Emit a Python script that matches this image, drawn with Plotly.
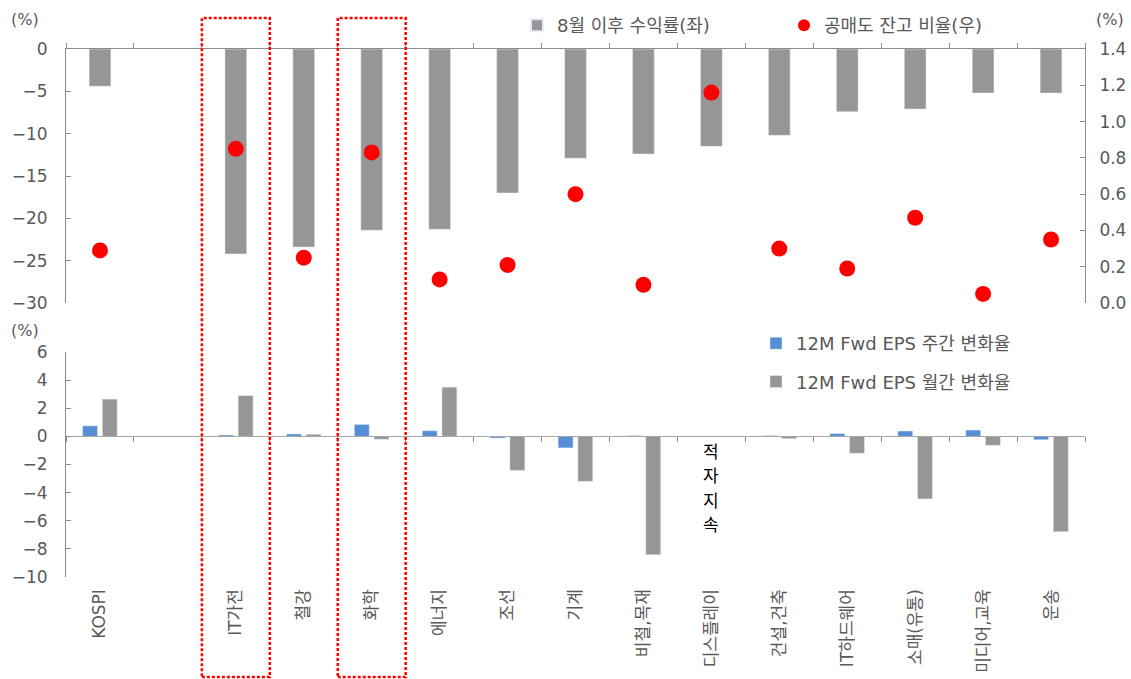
import plotly.graph_objects as go

# ---- data ----------------------------------------------------------------
categories = ["KOSPI", " ", "IT가전", "철강", "화학", "에너지", "조선", "기계",
              "비철,목재", "디스플레이", "건설,건축", "IT하드웨어", "소매(유통)",
              "미디어,교육", "운송"]

# return since August (%), left axis
return_since_aug = [-4.4, None, -24.2, -23.4, -21.4, -21.3, -17.0, -12.9,
                    -12.4, -11.5, -10.2, -7.4, -7.1, -5.2, -5.2]

# short-selling balance ratio (%), right axis
short_balance_ratio = [0.29, None, 0.85, 0.25, 0.83, 0.13, 0.21, 0.60,
                       0.10, 1.16, 0.30, 0.19, 0.47, 0.05, 0.35]

# 12M forward EPS change (%)
eps_weekly = [0.75, None, 0.10, 0.17, 0.85, 0.40, -0.12, -0.82,
              0.05, None, 0.05, 0.20, 0.38, 0.45, -0.24]
eps_monthly = [2.65, None, 2.90, 0.15, -0.21, 3.50, -2.42, -3.20,
               -8.42, None, -0.16, -1.20, -4.45, -0.64, -6.78]

highlighted = ["IT가전", "화학"]
deficit_category = "디스플레이"
deficit_note = "적자지속"

# ---- geometry --------------------------------------------------------------
W, H = 1131, 679
ML, MR, MT, MB = 66, 46, 49, 102
PW, PH = W - ML - MR, H - MT - MB


def px_x(px):
    return (px - ML) / PW


def px_y(py):
    return (H - MB - py) / PH


top_domain = [px_y(303), 1.0]
bot_domain = [0.0, px_y(352)]
bot_range = [-10, 6]
zero_pos = bot_domain[0] + (0 - bot_range[0]) / (bot_range[1] - bot_range[0]) * (bot_domain[1] - bot_domain[0])

FONT = "DejaVu Sans, Noto Sans CJK KR"
TXT = "#595959"
AXIS = "#8c8c8c"
GRAY = "#969696"
BLUE = "#558ED5"

fig = go.Figure()

fig.add_trace(go.Bar(x=categories, y=return_since_aug, name="8월 이후 수익률(좌)",
                     marker=dict(color=GRAY), width=0.32,
                     xaxis="x", yaxis="y", legend="legend"))
fig.add_trace(go.Scatter(x=categories, y=short_balance_ratio, name="공매도 잔고 비율(우)",
                         mode="markers", marker=dict(color="#FF0000", size=16),
                         xaxis="x", yaxis="y3", legend="legend"))
fig.add_trace(go.Bar(x=categories, y=eps_weekly, name="12M Fwd EPS 주간 변화율",
                     marker=dict(color=BLUE), width=0.22, offset=-0.256,
                     xaxis="x2", yaxis="y2", legend="legend2", legendgroup="w"))
fig.add_trace(go.Bar(x=categories, y=eps_monthly, name="12M Fwd EPS 월간 변화율",
                     marker=dict(color=GRAY), width=0.22, offset=0.034,
                     xaxis="x2", yaxis="y2", legend="legend2", legendgroup="m"))

cat_axis = dict(type="category", categoryorder="array", categoryarray=categories,
                range=[-0.5, len(categories) - 0.5], showgrid=False, zeroline=False,
                tickson="boundaries", fixedrange=True)

tickfont = dict(family=FONT, size=17, color=TXT)
legendfont = dict(family=FONT, size=18, color=TXT)

fig.update_layout(
    width=W, height=H,
    margin=dict(l=ML, r=MR, t=MT, b=MB, autoexpand=False),
    paper_bgcolor="white", plot_bgcolor="white",
    barmode="overlay",
    font=dict(family=FONT, color=TXT),
    xaxis=dict(cat_axis, anchor="y", side="top", showline=True, linecolor=AXIS,
               linewidth=1, ticks="outside", ticklen=5, tickcolor=AXIS,
               showticklabels=False),
    xaxis5=dict(cat_axis, overlaying="x", matches="x", anchor="y", side="top",
                showline=False, ticks="inside", ticklen=5, tickcolor=AXIS,
                showticklabels=False),
    xaxis2=dict(cat_axis, anchor="free", position=zero_pos, matches="x",
                showline=True, linecolor="#a6a6a6", linewidth=1,
                ticks="outside", ticklen=5, tickcolor=AXIS,
                tickangle=-90, tickfont=dict(family=FONT, size=17, color=TXT),
                ticklabelstandoff=145, automargin=False),
    xaxis4=dict(cat_axis, overlaying="x2", matches="x", anchor="free", position=zero_pos,
                showline=False, ticks="inside", ticklen=5, tickcolor=AXIS,
                showticklabels=False),
    yaxis=dict(domain=top_domain, range=[-30, 0], dtick=5, anchor="x",
               showline=True, linecolor=AXIS, ticks="inside", ticklen=5,
               tickcolor=AXIS, showgrid=False, zeroline=False,
               tickfont=tickfont, ticklabelstandoff=14, fixedrange=True),
    yaxis3=dict(overlaying="y", side="right", anchor="x", range=[0, 1.4], dtick=0.2,
                tickformat=".1f", showline=True, linecolor=AXIS, ticks="inside",
                ticklen=5, tickcolor=AXIS, showgrid=False, zeroline=False,
                tickfont=tickfont, ticklabelstandoff=10, fixedrange=True),
    yaxis2=dict(domain=bot_domain, range=bot_range, dtick=2, anchor="x2",
                showline=True, linecolor=AXIS, ticks="inside", ticklen=5,
                tickcolor=AXIS, showgrid=False, zeroline=False,
                tickfont=tickfont, ticklabelstandoff=14, fixedrange=True),
    legend=dict(orientation="h", x=px_x(517), y=px_y(7), xanchor="left", yanchor="top",
                font=legendfont, bgcolor="rgba(0,0,0,0)", itemsizing="constant",
                itemwidth=30, traceorder="normal",
                entrywidth=222, entrywidthmode="pixels"),
    legend2=dict(orientation="v", x=px_x(756), y=px_y(325), xanchor="left", yanchor="top",
                 font=legendfont, bgcolor="rgba(0,0,0,0)",
                 itemwidth=30, tracegroupgap=12),
    showlegend=True,
)

# unit labels
for px, py in [(25, 20), (1110, 20), (25, 330)]:
    fig.add_annotation(text="(%)", x=px_x(px), y=px_y(py), xref="paper", yref="paper",
                       showarrow=False, xanchor="center", yanchor="middle",
                       font=dict(family=FONT, size=16, color=TXT))

# note for the loss-making sector, one character per line
for k, ch in enumerate(deficit_note):
    fig.add_annotation(text=ch, x=deficit_category, y=0, xref="x2", yref="y2",
                       yanchor="middle", yshift=-14 - 24.5 * k, showarrow=False,
                       font=dict(family="Noto Sans CJK KR", size=17, color="#000000"))

# dotted highlight boxes spanning both panels
for name in highlighted:
    i = categories.index(name)
    fig.add_shape(type="rect", xref="x", yref="paper",
                  x0=i - 0.5, x1=i + 0.5, y0=px_y(677), y1=px_y(18),
                  line=dict(color="#FF0000", width=2.5, dash="3px,2px"),
                  fillcolor="rgba(0,0,0,0)", layer="above")

fig.write_html("out.html")
